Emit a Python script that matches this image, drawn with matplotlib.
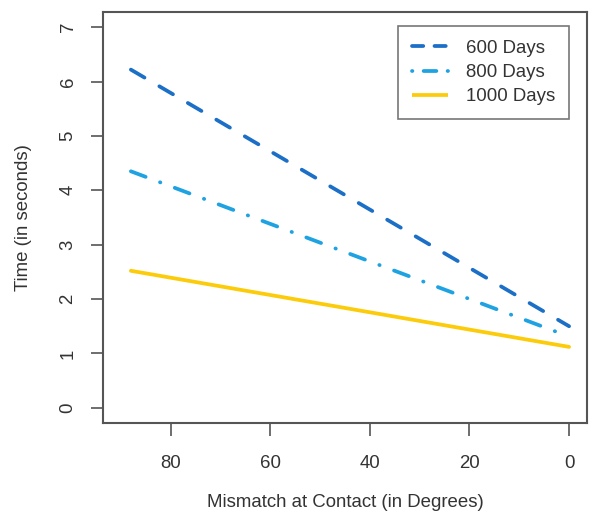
import matplotlib
matplotlib.use("Agg")
import matplotlib.pyplot as plt
from matplotlib.lines import Line2D

plt.rcParams['font.family'] = ['Liberation Sans', 'DejaVu Sans']

mismatch = [88, 0]
days600 = [6.22, 1.50]
days800 = [4.35, 1.31]
days1000 = [2.52, 1.12]
labels = ["600 Days", "800 Days", "1000 Days"]
xticks = [80, 60, 40, 20, 0]
yticks = [0, 1, 2, 3, 4, 5, 6, 7]

c600 = "#1b6fc6"
c800 = "#1fa2e2"
c1000 = "#fccb0a"
txt = "#333333"
edge = "#555555"
fs = 13.4

fig = plt.figure(figsize=(6.0, 5.23), dpi=100)
ax = fig.add_axes([103/600, 1-423/523, (587-103)/600, (423-12)/523])

lw = 2.7
ax.plot(mismatch, days600, color=c600, lw=lw, dashes=(4.2, 4.6),
        dash_capstyle='round')
ax.plot(mismatch, days800, color=c800, lw=lw, dashes=(4.2, 4.1, 0.1, 4.1),
        dash_capstyle='round')
ax.plot(mismatch, days1000, color=c1000, lw=lw, solid_capstyle='round')

ax.set_xlim(93.6, -3.6)
ax.set_ylim(-0.28, 7.28)
ax.set_xticks(xticks)
ax.set_yticks(yticks)
ax.set_yticklabels([str(v) for v in yticks], rotation=90, va='center')
ax.tick_params(axis='both', direction='out', length=9, width=1.2,
               colors=edge, labelcolor=txt, labelsize=fs)
ax.tick_params(axis='x', pad=14)
ax.tick_params(axis='y', pad=10)
for s in ax.spines.values():
    s.set_color(edge)
    s.set_linewidth(1.5)

ax.set_xlabel("Mismatch at Contact (in Degrees)", fontsize=fs, color=txt, labelpad=16)
ax.set_ylabel("Time (in seconds)", fontsize=fs, color=txt, labelpad=20)

handles = [
    Line2D([], [], color=c600, lw=lw, dashes=(3.0, 3.0), dash_capstyle='round'),
    Line2D([], [], color=c800, lw=lw, dashes=(0.1, 3.0, 3.4, 3.0), dash_capstyle='round'),
    Line2D([], [], color=c1000, lw=lw, solid_capstyle='butt'),
]
leg = ax.legend(handles, labels, loc='upper right', bbox_to_anchor=(569/600, 1-26/523),
                bbox_transform=fig.transFigure, fontsize=fs, frameon=True,
                fancybox=False, edgecolor=edge, handlelength=1.95,
                borderpad=0.75, labelspacing=0.38, handletextpad=0.95,
                borderaxespad=0)
leg.get_frame().set_linewidth(1.2)
for t in leg.get_texts():
    t.set_color(txt)

fig.savefig("out.png", dpi=100)
